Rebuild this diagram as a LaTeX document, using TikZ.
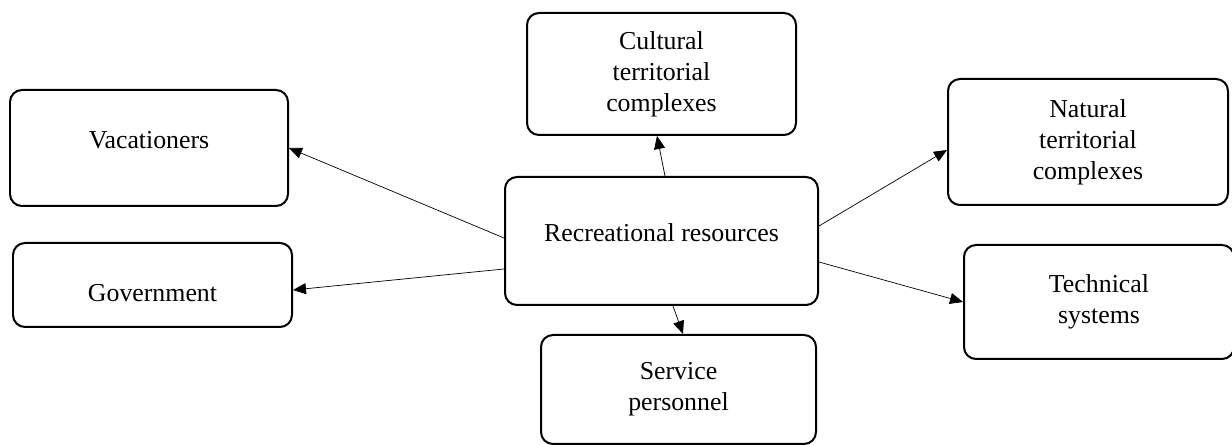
\documentclass[tikz,border=0pt]{standalone}
\usepackage{fontspec}
\setmainfont{Liberation Serif}
\usetikzlibrary{arrows.meta}

\begin{document}
\begin{tikzpicture}[
	box/.style={draw,line width=0.04cm,rounded corners=0.24cm,align=center,inner sep=0pt,font=\fontsize{14.7}{17.6}\selectfont},
	>={Triangle[length=0.26cm,width=0.22cm]}]
	\useasboundingbox (0,0) rectangle (24.64,-8.9);
	\node[box,minimum width=5.56cm,minimum height=2.32cm,text depth=0.32cm] (vac) at (2.98,-2.96) {Vacationers};
	\node[box,minimum width=5.58cm,minimum height=1.68cm,text height=0.66cm] (gov) at (3.05,-5.70) {Government};
	\node[box,minimum width=5.38cm,minimum height=2.44cm] (cult) at (13.23,-1.48) {Cultural\\territorial\\complexes};
	\node[box,minimum width=5.6cm,minimum height=2.52cm] (nat) at (21.76,-2.84) {Natural\\territorial\\complexes};
	\node[box,minimum width=6.26cm,minimum height=2.56cm,text depth=0.32cm] (rec) at (13.23,-4.82) {Recreational resources};
	\node[box,minimum width=5.4cm,minimum height=2.28cm] (tech) at (21.98,-6.04) {Technical\\systems};
	\node[box,minimum width=5.5cm,minimum height=2.18cm] (serv) at (13.57,-7.79) {Service\\personnel};
	\draw[->] ([yshift=0.06cm]rec.west) -- (vac.east);
	\draw[->] ([yshift=-0.56cm]rec.west) -- ([yshift=-0.1cm]gov.east);
	\draw[->] ([xshift=0.07cm]rec.north) -- ([xshift=-0.09cm]cult.south);
	\draw[->] ([xshift=0.23cm]rec.south) -- ([xshift=0.09cm]serv.north);
	\draw[->] ([yshift=0.3cm]rec.east) -- ([yshift=-0.16cm]nat.west);
	\draw[->] ([yshift=-0.42cm]rec.east) -- (tech.west);
\end{tikzpicture}
\end{document}
